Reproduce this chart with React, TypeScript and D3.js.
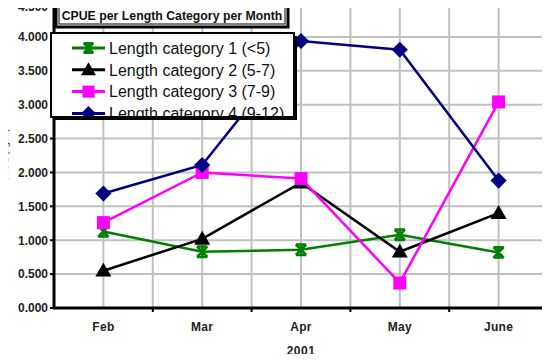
import { useRef, useEffect } from "react";
import * as d3 from "d3";

// months on the x axis
const months = ["Feb", "Mar", "Apr", "May", "June"];

// CPUE values (kg/hr) per length category
const cat1 = [1.13, 0.83, 0.86, 1.08, 0.82];
const cat2 = [0.55, 1.02, 1.85, 0.83, 1.4];
const cat3 = [1.26, 2.0, 1.91, 0.37, 3.04];
const cat4 = [1.69, 2.11, 3.94, 3.81, 1.88];

const seriesNames = [
  "Length category 1 (<5)",
  "Length category 2 (5-7)",
  "Length category 3 (7-9)",
  "Length category 4 (9-12)",
];
const yTicks = [0, 0.5, 1, 1.5, 2, 2.5, 3, 3.5, 4, 4.5];

const colors = ["#008000", "#000000", "#ff00ff", "#000080"];
const markers = ["star", "triangle", "square", "diamond"];

const W = 550;
const H = 362;
const margin = { left: 54, right: 2, top: 3, bottom: 54 };

function markerPath(kind: string, s: number) {
  if (kind === "triangle") {
    return `M0,${-s * 0.62}L${s * 0.62},${s * 0.45}L${-s * 0.62},${s * 0.45}Z`;
  }
  if (kind === "square") {
    const h = s / 2;
    return `M${-h},${-h}H${h}V${h}H${-h}Z`;
  }
  if (kind === "diamond") {
    const h = s * 0.62;
    return `M0,${-h}L${h},0L0,${h}L${-h},0Z`;
  }
  // excel-like star: X with top/bottom bars
  const h = s * 0.4;
  return `M${-h},${-h}L${h},${h}M${h},${-h}L${-h},${h}M${-h},${-h}H${h}M${-h},${h}H${h}M0,${-h}V${h}`;
}

export default function App() {
  const ref = useRef<HTMLDivElement>(null);

  useEffect(() => {
    const svg = d3.create("svg").attr("width", W).attr("height", H)
      .style("display", "block")
      .style("font-family", "Arial, 'Liberation Sans', sans-serif");

    const x = d3.scaleBand().domain(months)
      .range([margin.left, W - margin.right]).padding(0);
    const y = d3.scaleLinear().domain([0, 4.5])
      .range([H - margin.bottom, margin.top]);
    const cx = (m: string) => (x(m) as number) + x.bandwidth() / 2;

    // grid
    const grid = svg.append("g").attr("stroke", "#c0c0c0").attr("stroke-width", 2);
    yTicks.forEach(t => {
      grid.append("line").attr("x1", margin.left).attr("x2", W - margin.right)
        .attr("y1", y(t)).attr("y2", y(t));
    });
    const vx: number[] = [];
    months.forEach(m => { vx.push(cx(m)); vx.push((x(m) as number) + x.bandwidth()); });
    vx.forEach(v => {
      grid.append("line").attr("x1", v).attr("x2", v)
        .attr("y1", margin.top).attr("y2", H - margin.bottom);
    });

    // axes
    const axes = svg.append("g").attr("stroke", "#000");
    axes.append("line").attr("x1", margin.left).attr("x2", margin.left)
      .attr("y1", margin.top - 1).attr("y2", H - margin.bottom + 1).attr("stroke-width", 3);
    axes.append("line").attr("x1", margin.left - 1).attr("x2", W - margin.right)
      .attr("y1", H - margin.bottom).attr("y2", H - margin.bottom).attr("stroke-width", 3);
    yTicks.forEach(t => {
      axes.append("line").attr("x1", margin.left - 4).attr("x2", margin.left)
        .attr("y1", y(t)).attr("y2", y(t)).attr("stroke-width", 2);
    });
    months.forEach(m => {
      const bx = (x(m) as number) + x.bandwidth();
      axes.append("line").attr("x1", bx).attr("x2", bx)
        .attr("y1", H - margin.bottom).attr("y2", H - margin.bottom + 4).attr("stroke-width", 2);
    });

    svg.append("g").selectAll("text").data(yTicks).join("text")
      .attr("x", margin.left - 6).attr("y", d => Math.max(y(d), 6.5)).attr("dy", "0.36em")
      .attr("text-anchor", "end").attr("font-size", 12).attr("font-weight", "bold")
      .attr("fill", "#222")
      .text(d => d3.format(".3f")(d));

    svg.append("g").selectAll("text").data(months).join("text")
      .attr("x", d => cx(d)).attr("y", H - margin.bottom + 23)
      .attr("text-anchor", "middle").attr("font-size", 12).attr("font-weight", "bold")
      .attr("fill", "#222").attr("letter-spacing", 0.3)
      .text(d => d);

    svg.append("text").attr("x", (margin.left + W - margin.right) / 2).attr("y", H - 7)
      .attr("text-anchor", "middle").attr("font-size", 12).attr("font-weight", "bold")
      .attr("fill", "#222").attr("letter-spacing", 0.5).text("2001");

    svg.append("text").attr("transform", `translate(8,${(margin.top + H - margin.bottom) / 2}) rotate(-90)`)
      .attr("text-anchor", "middle").attr("font-size", 9).attr("fill", "#222")
      .text("CPUE (kg/hr)");

    // series
    const data = [cat1, cat2, cat3, cat4];
    const line = d3.line<number>().x((_, i) => cx(months[i])).y(d => y(d));
    data.forEach((vals, si) => {
      const g = svg.append("g");
      g.append("path").attr("d", line(vals)).attr("fill", "none")
        .attr("stroke", colors[si]).attr("stroke-width", 2.5);
      vals.forEach((v, i) => {
        const p = g.append("path").attr("d", markerPath(markers[si], 13))
          .attr("transform", `translate(${cx(months[i])},${y(v)})`);
        if (markers[si] === "star") {
          p.attr("fill", "none").attr("stroke", colors[si]).attr("stroke-width", 2.5);
        } else {
          p.attr("fill", colors[si]);
        }
      });
    });

    // title box
    const tb = { x: 56, y: 4, w: 232, h: 23 };
    svg.append("rect").attr("x", tb.x).attr("y", tb.y).attr("width", tb.w).attr("height", tb.h)
      .attr("fill", "#fff").attr("stroke", "#000").attr("stroke-width", 3);
    svg.append("rect").attr("x", tb.x + 3).attr("y", tb.y + 3).attr("width", tb.w - 6).attr("height", tb.h - 6)
      .attr("fill", "none").attr("stroke", "#000").attr("stroke-width", 1);
    svg.append("text").attr("x", tb.x + tb.w / 2).attr("y", tb.y + 16)
      .attr("text-anchor", "middle").attr("font-size", 12.3).attr("font-weight", "bold")
      .attr("fill", "#111").text("CPUE per Length Category per Month");

    // legend box
    const lb = { x: 51, y: 33, w: 243, h: 84 };
    svg.append("rect").attr("x", lb.x + 3).attr("y", lb.y + 3).attr("width", lb.w).attr("height", lb.h)
      .attr("fill", "#000");
    svg.append("rect").attr("x", lb.x).attr("y", lb.y).attr("width", lb.w).attr("height", lb.h)
      .attr("fill", "#fff");
    svg.append("clipPath").attr("id", "legclip").append("rect")
      .attr("x", lb.x).attr("y", lb.y).attr("width", lb.w).attr("height", lb.h - 1);
    const leg = svg.append("g").attr("clip-path", "url(#legclip)");
    seriesNames.forEach((name, i) => {
      const ry = lb.y + 15 + i * 21.8;
      leg.append("line").attr("x1", 72).attr("x2", 105).attr("y1", ry).attr("y2", ry)
        .attr("stroke", colors[i]).attr("stroke-width", 3);
      const p = leg.append("path").attr("d", markerPath(markers[i], 12))
        .attr("transform", `translate(88.5,${ry})`);
      if (markers[i] === "star") {
        p.attr("fill", "none").attr("stroke", colors[i]).attr("stroke-width", 2.5);
      } else {
        p.attr("fill", colors[i]);
      }
      leg.append("text").attr("x", 109).attr("y", ry).attr("dy", "0.36em")
        .attr("font-size", 16).attr("fill", "#111").text(name);
    });
    svg.append("rect").attr("x", lb.x).attr("y", lb.y).attr("width", lb.w).attr("height", lb.h)
      .attr("fill", "none").attr("stroke", "#000").attr("stroke-width", 2);

    ref.current?.appendChild(svg.node() as SVGSVGElement);
    return () => { svg.node()?.remove(); };
  }, []);

  return <div ref={ref} style={{ margin: -8 }}></div>;
}
